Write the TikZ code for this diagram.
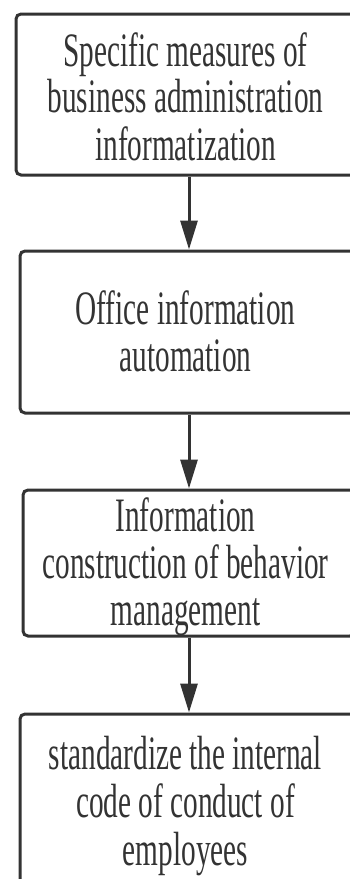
\documentclass[tikz,border=0pt]{standalone}
\usepackage{fontspec}
\setmainfont{Liberation Serif}[FakeStretch=0.61]
\usetikzlibrary{arrows.meta}
\definecolor{ink}{HTML}{333333}
\newcommand{\bxtxt}[3]{\kern-3.5pt\raisebox{-#1}[\height][\depth]{\fontsize{48}{#2}\selectfont\begin{tabular}{@{}c@{}}#3\end{tabular}}\kern3.5pt}
\begin{document}
\begin{tikzpicture}[x=1pt,y=-1pt,
  stepbox/.style={draw=ink,line width=3pt,rounded corners=5pt,inner sep=0pt,text=ink,minimum width=#1},
  flow/.style={draw=ink,line width=3pt,-{Triangle[length=29pt,width=17pt]}}]
\useasboundingbox (0,0) rectangle (350,879);
\clip (0,0) rectangle (350,879);
\node[stepbox=346pt,minimum height=161pt] (b1) at (189,94.5)
  {\bxtxt{8.5pt}{45}{Specific measures of\\business administration\\informatization}};
\node[stepbox=338pt,minimum height=162pt] (b2) at (189,332)
  {\bxtxt{6pt}{47}{Office information\\automation}};
\node[stepbox=332pt,minimum height=146pt] (b3) at (189,563)
  {\bxtxt{5.6pt}{47}{Information\\construction of behavior\\management}};
\node[stepbox=338pt,minimum height=176pt] (b4) at (189,802)
  {\bxtxt{6pt}{47}{standardize the internal\\code of conduct of\\employees}};
\draw[flow] (b1.south) -- (b2.north);
\draw[flow] (b2.south) -- (b3.north);
\draw[flow] (b3.south) -- (b4.north);
\end{tikzpicture}
\end{document}
